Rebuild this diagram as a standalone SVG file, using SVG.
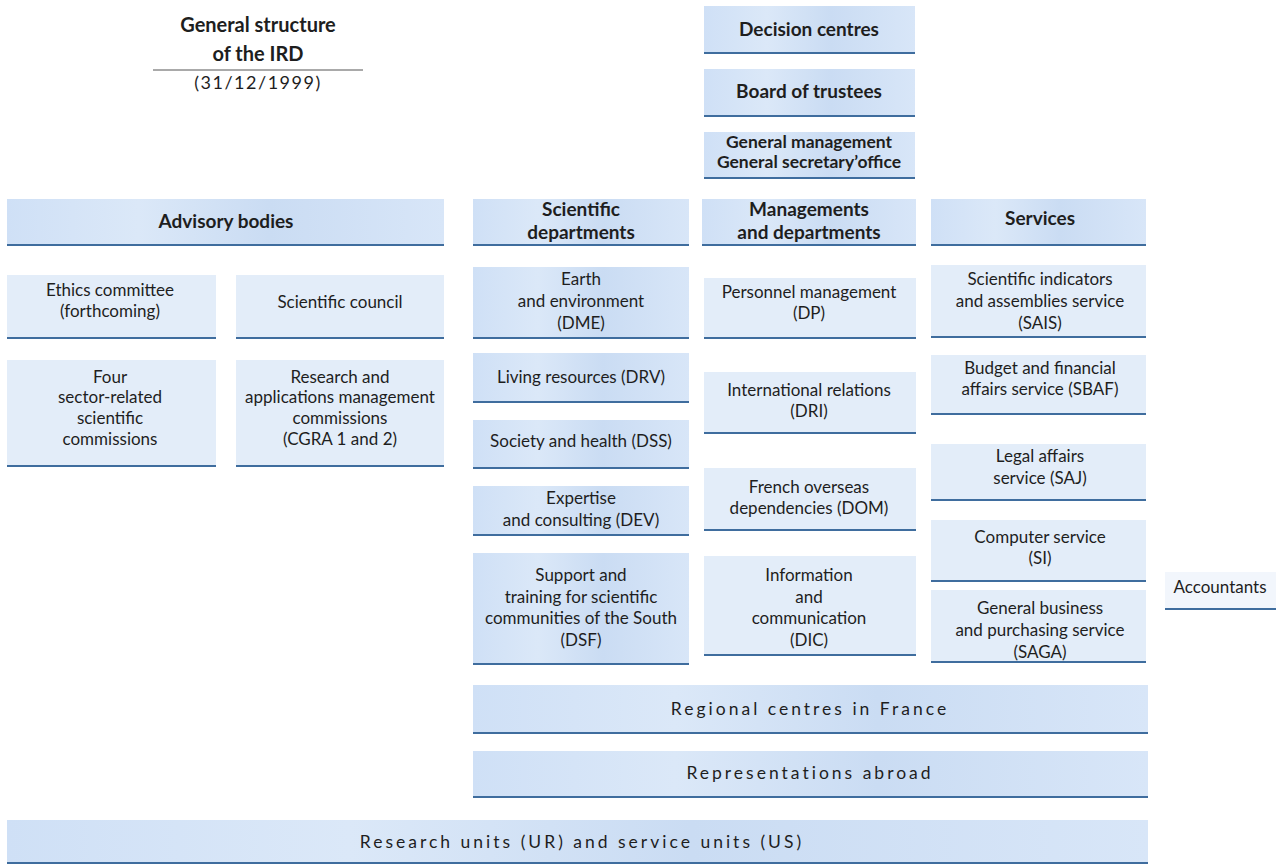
<svg xmlns="http://www.w3.org/2000/svg" width="1283" height="865" viewBox="0 0 1283 865">
<defs>
<linearGradient id="bg" x1="0" y1="0" x2="1" y2="0">
<stop offset="0" stop-color="#cfe0f6"/>
<stop offset="0.3" stop-color="#dbe8f8"/>
<stop offset="0.6" stop-color="#cadcf3"/>
<stop offset="1" stop-color="#d8e6f8"/>
</linearGradient>
<style>
.box{fill:url(#bg)}
.lt{fill:#e3edf9}
.ln{stroke:#3f6d9e;stroke-width:2}
text{font-family:Lato,"Open Sans","Liberation Sans",sans-serif;fill:#1e1e1e;text-anchor:middle}
.h{font-weight:bold;font-size:19px}
.t{font-size:17px}
.w{font-size:17.5px;letter-spacing:3px}
</style>
</defs>
<g id="title">
<text class="h" x="258" y="32" style="font-size:20px">General structure</text>
<text class="h" x="258" y="61" style="font-size:20px">of the IRD</text>
<line x1="153" y1="70" x2="363" y2="70" stroke="#555" stroke-width="1"/>
<text class="t" x="258" y="89" style="font-size:18px;letter-spacing:1.5px">(31/12/1999)</text>
</g>
<g id="decision">
<rect class="box" x="704" y="6" width="211" height="47"/><line class="ln" x1="704" y1="53" x2="915" y2="53"/>
<text class="h" x="809" y="36">Decision centres</text>
</g>
<g id="board">
<rect class="box" x="704" y="69" width="211" height="47"/><line class="ln" x1="704" y1="116" x2="915" y2="116"/>
<text class="h" x="809" y="98">Board of trustees</text>
</g>
<g id="general">
<rect class="box" x="704" y="132" width="211" height="46"/><line class="ln" x1="704" y1="178" x2="915" y2="178"/>
<text class="h" x="809" y="148" style="font-size:17.5px">General management</text>
<text class="h" x="809" y="168" style="font-size:17.5px">General secretary’office</text>
</g>
<g id="advisory">
<rect class="box" x="7" y="199" width="437" height="46"/><line class="ln" x1="7" y1="245" x2="444" y2="245"/>
<text class="h" x="226" y="228">Advisory bodies</text>
</g>
<g id="scidep">
<rect class="box" x="473" y="199" width="216" height="46"/><line class="ln" x1="473" y1="245" x2="689" y2="245"/>
<text class="h" x="581" y="216">Scientific</text>
<text class="h" x="581" y="239">departments</text>
</g>
<g id="managements">
<rect class="box" x="702" y="199" width="214" height="46"/><line class="ln" x1="702" y1="245" x2="916" y2="245"/>
<text class="h" x="809" y="216">Managements</text>
<text class="h" x="809" y="239">and departments</text>
</g>
<g id="services">
<rect class="box" x="931" y="199" width="215" height="46"/><line class="ln" x1="931" y1="245" x2="1146" y2="245"/>
<text class="h" x="1040" y="225">Services</text>
</g>
<g id="ethics">
<rect class="lt" x="7" y="275" width="209" height="63"/><line class="ln" x1="7" y1="338" x2="216" y2="338"/>
<text class="t" x="110" y="296">Ethics committee</text>
<text class="t" x="110" y="317">(forthcoming)</text>
</g>
<g id="scicouncil">
<rect class="lt" x="236" y="275" width="208" height="63"/><line class="ln" x1="236" y1="338" x2="444" y2="338"/>
<text class="t" x="340" y="308">Scientific council</text>
</g>
<g id="four">
<rect class="lt" x="7" y="360" width="209" height="106"/><line class="ln" x1="7" y1="466" x2="216" y2="466"/>
<text class="t" x="110" y="383">Four</text>
<text class="t" x="110" y="403">sector-related</text>
<text class="t" x="110" y="424">scientific</text>
<text class="t" x="110" y="445">commissions</text>
</g>
<g id="cgra">
<rect class="lt" x="236" y="360" width="208" height="106"/><line class="ln" x1="236" y1="466" x2="444" y2="466"/>
<text class="t" x="340" y="383">Research and</text>
<text class="t" x="340" y="403">applications management</text>
<text class="t" x="340" y="424">commissions</text>
<text class="t" x="340" y="445">(CGRA 1 and 2)</text>
</g>
<g id="dme">
<rect class="box" x="473" y="267" width="216" height="71"/><line class="ln" x1="473" y1="338" x2="689" y2="338"/>
<text class="t" x="581" y="285">Earth</text>
<text class="t" x="581" y="307">and environment</text>
<text class="t" x="581" y="329">(DME)</text>
</g>
<g id="drv">
<rect class="box" x="473" y="353" width="216" height="49"/><line class="ln" x1="473" y1="402" x2="689" y2="402"/>
<text class="t" x="581" y="383">Living resources (DRV)</text>
</g>
<g id="dss">
<rect class="box" x="473" y="420" width="216" height="48"/><line class="ln" x1="473" y1="468" x2="689" y2="468"/>
<text class="t" x="581" y="447">Society and health (DSS)</text>
</g>
<g id="dev">
<rect class="box" x="473" y="486" width="216" height="49"/><line class="ln" x1="473" y1="535" x2="689" y2="535"/>
<text class="t" x="581" y="504">Expertise</text>
<text class="t" x="581" y="526">and consulting (DEV)</text>
</g>
<g id="dsf">
<rect class="box" x="473" y="553" width="216" height="111"/><line class="ln" x1="473" y1="664" x2="689" y2="664"/>
<text class="t" x="581" y="581">Support and</text>
<text class="t" x="581" y="603">training for scientific</text>
<text class="t" x="581" y="624">communities of the South</text>
<text class="t" x="581" y="646">(DSF)</text>
</g>
<g id="dp">
<rect class="lt" x="704" y="278" width="212" height="60"/><line class="ln" x1="704" y1="338" x2="916" y2="338"/>
<text class="t" x="809" y="298">Personnel management</text>
<text class="t" x="809" y="319">(DP)</text>
</g>
<g id="dri">
<rect class="lt" x="704" y="372" width="212" height="61"/><line class="ln" x1="704" y1="433" x2="916" y2="433"/>
<text class="t" x="809" y="396">International relations</text>
<text class="t" x="809" y="417">(DRI)</text>
</g>
<g id="dom">
<rect class="lt" x="704" y="468" width="212" height="62"/><line class="ln" x1="704" y1="530" x2="916" y2="530"/>
<text class="t" x="809" y="493">French overseas</text>
<text class="t" x="809" y="514">dependencies (DOM)</text>
</g>
<g id="dic">
<rect class="lt" x="704" y="556" width="212" height="99"/><line class="ln" x1="704" y1="655" x2="916" y2="655"/>
<text class="t" x="809" y="581">Information</text>
<text class="t" x="809" y="603">and</text>
<text class="t" x="809" y="624">communication</text>
<text class="t" x="809" y="646">(DIC)</text>
</g>
<g id="sais">
<rect class="lt" x="931" y="265" width="215" height="72"/><line class="ln" x1="931" y1="337" x2="1146" y2="337"/>
<text class="t" x="1040" y="285">Scientific indicators</text>
<text class="t" x="1040" y="307">and assemblies service</text>
<text class="t" x="1040" y="329">(SAIS)</text>
</g>
<g id="sbaf">
<rect class="lt" x="931" y="355" width="215" height="59"/><line class="ln" x1="931" y1="414" x2="1146" y2="414"/>
<text class="t" x="1040" y="374">Budget and financial</text>
<text class="t" x="1040" y="395">affairs service (SBAF)</text>
</g>
<g id="saj">
<rect class="lt" x="931" y="444" width="215" height="56"/><line class="ln" x1="931" y1="500" x2="1146" y2="500"/>
<text class="t" x="1040" y="462">Legal affairs</text>
<text class="t" x="1040" y="484">service (SAJ)</text>
</g>
<g id="si">
<rect class="lt" x="931" y="520" width="215" height="61"/><line class="ln" x1="931" y1="581" x2="1146" y2="581"/>
<text class="t" x="1040" y="543">Computer service</text>
<text class="t" x="1040" y="564">(SI)</text>
</g>
<g id="saga">
<rect class="lt" x="931" y="590" width="215" height="72"/><line class="ln" x1="931" y1="662" x2="1146" y2="662"/>
<text class="t" x="1040" y="614">General business</text>
<text class="t" x="1040" y="636">and purchasing service</text>
<text class="t" x="1040" y="658">(SAGA)</text>
</g>
<g id="accountants">
<rect x="1165" y="572" width="111" height="37" fill="#f2f6fc"/><line class="ln" x1="1165" y1="609" x2="1276" y2="609"/>
<text class="t" x="1220" y="593">Accountants</text>
</g>
<g id="regional">
<rect class="box" x="473" y="685" width="675" height="48"/><line class="ln" x1="473" y1="733" x2="1148" y2="733"/>
<text class="w" x="810" y="715">Regional centres in France</text>
</g>
<g id="abroad">
<rect class="box" x="473" y="751" width="675" height="46"/><line class="ln" x1="473" y1="797" x2="1148" y2="797"/>
<text class="w" x="810" y="779">Representations abroad</text>
</g>
<g id="units">
<rect class="box" x="7" y="820" width="1141" height="43"/><line class="ln" x1="7" y1="863" x2="1148" y2="863"/>
<text class="w" x="582" y="848">Research units (UR) and service units (US)</text>
</g>
<g id="connectors"></g>
</svg>
